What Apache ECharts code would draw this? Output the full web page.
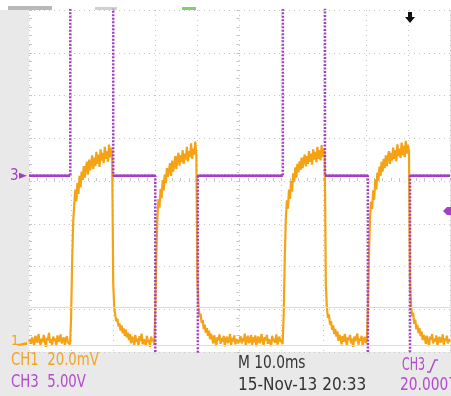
<!DOCTYPE html>
<html>
<head>
<meta charset="utf-8">
<script src="https://cdn.jsdelivr.net/npm/echarts@6/dist/echarts.min.js"></script>
<style>
html,body{margin:0;padding:0;background:#e9e9e9;}
#scope{width:451px;height:396px;}
</style>
</head>
<body>
<div id="scope"></div>
<script>
// Screen: 10 horizontal divisions (10 ms/div), 8 vertical divisions
const timeMin = 0, timeMax = 100, timeDiv = 10;
const divMin = -4, divMax = 4;

// CH1 trace, in screen divisions, sampled every 0.25 ms
const ch1Step = 0.25;
const ch1Div = [
  // 0 - 9.75 ms
  -3.76,-3.70,-3.81,-3.66,-3.74,-3.85,-3.62,-3.71,-3.78,-3.58,
  -3.73,-3.84,-3.69,-3.77,-3.60,-3.75,-3.88,-3.67,-3.72,-3.55,
  -3.79,-3.70,-3.83,-3.64,-3.74,-3.68,-3.86,-3.61,-3.76,-3.71,
  -3.59,-3.80,-3.73,-3.66,-3.84,-3.70,-3.63,-3.78,-3.74,-3.82,
  // 10 - 19.75 ms
  -3.20,-1.90,-0.95,-0.55,-0.20,-0.48,-0.05,-0.30,0.12,-0.15,
  0.22,0.02,0.35,0.08,0.30,0.45,0.15,0.50,0.25,0.42,
  0.60,0.28,0.55,0.35,0.68,0.40,0.62,0.33,0.74,0.48,
  0.66,0.42,0.80,0.52,0.70,0.45,0.85,0.55,0.78,0.62,
  // 20 - 29.75 ms
  -2.40,-2.95,-3.15,-3.28,-3.22,-3.40,-3.33,-3.50,-3.38,-3.56,
  -3.45,-3.62,-3.48,-3.66,-3.55,-3.72,-3.58,-3.80,-3.64,-3.70,
  -3.84,-3.60,-3.76,-3.68,-3.86,-3.63,-3.74,-3.57,-3.82,-3.70,
  -3.66,-3.85,-3.62,-3.77,-3.71,-3.88,-3.64,-3.75,-3.69,-3.83,
  // 30 - 39.75 ms
  -3.00,-1.70,-0.85,-0.42,-0.62,-0.18,-0.40,0.02,-0.22,0.15,
  -0.05,0.30,0.10,0.25,0.42,0.12,0.48,0.22,0.38,0.58,
  0.28,0.52,0.66,0.36,0.60,0.44,0.72,0.40,0.64,0.50,
  0.80,0.46,0.70,0.56,0.88,0.52,0.76,0.62,0.92,0.58,
  // 40 - 49.75 ms
  -2.30,-2.90,-3.18,-3.10,-3.32,-3.25,-3.46,-3.36,-3.55,-3.44,
  -3.62,-3.50,-3.70,-3.58,-3.66,-3.80,-3.61,-3.74,-3.86,-3.65,
  -3.72,-3.59,-3.81,-3.68,-3.76,-3.62,-3.87,-3.70,-3.64,-3.79,
  -3.73,-3.58,-3.84,-3.67,-3.75,-3.61,-3.82,-3.70,-3.66,-3.78,
  // 50 - 60.25 ms
  -3.71,-3.63,-3.80,-3.68,-3.75,-3.57,-3.85,-3.70,-3.62,-3.79,
  -3.74,-3.60,-3.83,-3.66,-3.77,-3.61,-3.87,-3.69,-3.64,-3.80,
  -3.72,-3.58,-3.76,-3.84,-3.65,-3.73,-3.60,-3.81,-3.70,-3.67,
  -3.86,-3.62,-3.75,-3.69,-3.78,-3.59,-3.83,-3.71,-3.64,-3.77,
  -3.70,-3.82,
  // 60.5 - 70.25 ms
  -3.10,-1.80,-0.90,-0.45,-0.65,-0.20,-0.42,0.00,-0.25,0.18,
  -0.02,0.32,0.08,0.40,0.20,0.46,0.26,0.55,0.30,0.50,
  0.62,0.34,0.58,0.40,0.70,0.45,0.64,0.38,0.74,0.50,
  0.68,0.44,0.80,0.52,0.72,0.48,0.84,0.56,0.76,0.60,
  // 70.5 - 80.25 ms
  -2.40,-2.95,-3.20,-3.12,-3.36,-3.28,-3.48,-3.38,-3.58,-3.46,
  -3.64,-3.52,-3.74,-3.60,-3.68,-3.82,-3.63,-3.76,-3.58,-3.70,
  -3.85,-3.66,-3.72,-3.60,-3.80,-3.69,-3.88,-3.64,-3.75,-3.71,
  -3.57,-3.83,-3.68,-3.74,-3.62,-3.86,-3.70,-3.65,-3.79,-3.73,
  // 80.5 - 90.25 ms
  -3.00,-1.75,-0.88,-0.48,-0.66,-0.22,-0.44,0.04,-0.20,0.20,
  0.00,0.34,0.12,0.45,0.22,0.52,0.30,0.60,0.35,0.56,
  0.70,0.40,0.66,0.48,0.78,0.52,0.72,0.46,0.86,0.58,
  0.76,0.54,0.90,0.60,0.82,0.56,0.94,0.64,0.85,0.70,
  // 90.5 - 100 ms
  -2.35,-2.92,-3.16,-3.08,-3.34,-3.24,-3.47,-3.36,-3.56,-3.44,
  -3.63,-3.52,-3.72,-3.60,-3.67,-3.81,-3.62,-3.75,-3.86,-3.64,
  -3.71,-3.58,-3.80,-3.69,-3.76,-3.61,-3.85,-3.70,-3.65,-3.78,
  -3.73,-3.59,-3.83,-3.68,-3.74,-3.62,-3.80,-3.70,-3.76
];
const ch1Ground = -3.79;          // CH1 ground marker, divisions
const ch1Cursors = [-2.95, -3.84]; // horizontal cursors, divisions

// CH3 square wave: edge times (ms) and the level (V) held before/after each edge
const ch3Edges = [9.8, 20.0, 30.0, 40.1, 60.3, 70.3, 80.5, 90.5];
const ch3Volts = [0, 25, 0, -25, 0, 25, 0, -25, 0];
const ch3VoltsPerDiv = 5;
const ch3Offset = 0.12;           // CH3 ground position, divisions
const trigTime = 90.5;            // ms
const trigLevel = -4.1;           // V

const purple = '#a23fc2';
const orange = '#f5a314';
const toDiv3 = v => ch3Offset + v / ch3VoltsPerDiv;

const ch1Data = ch1Div.map((v, i) => [i * ch1Step, v]);

const ch3Wave = [];
const ch3Mid = [];
const bounds = [timeMin].concat(ch3Edges, [timeMax]);
for (let i = 0; i < ch3Volts.length; i++) {
  const y = toDiv3(ch3Volts[i]);
  ch3Wave.push([bounds[i], y], [bounds[i + 1], y]);
  if (ch3Volts[i] === 0) {
    ch3Mid.push([bounds[i], y], [bounds[i + 1], y], [bounds[i + 1], '-']);
  }
}

const chart = echarts.init(document.getElementById('scope'), null, {renderer: 'canvas'});

const gridLine = {show: true, lineStyle: {color: '#c6c6c6', width: 1, type: [1, 4]}};
const tickStyle = {color: '#c4c4c4', width: 1};

chart.setOption({
  backgroundColor: '#e9e9e9',
  animation: false,
  grid: {left: 29, right: 1, top: 10, bottom: 44, show: true, backgroundColor: '#ffffff', borderWidth: 0},
  xAxis: [
    {type: 'value', min: timeMin, max: timeMax, interval: timeDiv,
     axisLine: {show: false, onZero: true, onZeroAxisIndex: 0},
     axisTick: {show: true, inside: true, length: 3, lineStyle: tickStyle},
     minorTick: {show: true, splitNumber: 5, length: 3, lineStyle: tickStyle},
     axisLabel: {show: false}, splitLine: gridLine},
    {type: 'value', min: -50, max: 50, show: false}
  ],
  yAxis: [
    {type: 'value', min: divMin, max: divMax, interval: 1,
     axisLine: {show: false, onZero: false},
     axisTick: {show: true, inside: true, length: 3, lineStyle: tickStyle},
     minorTick: {show: true, splitNumber: 5, length: 3, lineStyle: tickStyle},
     axisLabel: {show: false}, splitLine: gridLine},
    {type: 'value', min: divMin, max: divMax, interval: 1,
     axisLine: {show: false, onZero: true, onZeroAxisIndex: 1},
     axisTick: {show: true, inside: true, length: 3, lineStyle: tickStyle},
     minorTick: {show: true, splitNumber: 5, length: 3, lineStyle: tickStyle},
     axisLabel: {show: false}, splitLine: {show: false}}
  ],
  series: [
    {name: 'CH1', type: 'line', data: ch1Data, showSymbol: false, clip: true,
     lineStyle: {color: orange, width: 2.2}, z: 3,
     markLine: {silent: true, symbol: 'none', label: {show: false},
       lineStyle: {color: '#f7d9a8', width: 1, type: 'solid'},
       data: ch1Cursors.map(v => ({yAxis: v}))}},
    {name: 'CH3 edges', type: 'line', data: ch3Wave, showSymbol: false, clip: true,
     lineStyle: {color: purple, width: 2.5, type: [2, 1.5]}, z: 4},
    {name: 'CH3', type: 'line', data: ch3Mid, showSymbol: false, clip: true, connectNulls: false,
     lineStyle: {color: purple, width: 2.5}, z: 5}
  ]
});

// Screen annotations: channel markers, trigger markers and readouts
const gy3 = chart.convertToPixel({yAxisIndex: 0}, ch3Offset);
const gy1 = chart.convertToPixel({yAxisIndex: 0}, ch1Ground);
const ty = chart.convertToPixel({yAxisIndex: 0}, toDiv3(trigLevel));
const tx = chart.convertToPixel({xAxisIndex: 0}, trigTime);
const font = "'Liberation Sans Narrow','DejaVu Sans Condensed',sans-serif";

const txt = (text, x, y, fill, size, sx) => ({
  type: 'text', x: x, y: y, scaleX: sx || 1, silent: true,
  style: {text: text, fill: fill, font: size + 'px ' + font, textVerticalAlign: 'middle'}
});

chart.setOption({
  graphic: [
    {type: 'rect', shape: {x: 0, y: 0, width: 451, height: 10}, style: {fill: '#ffffff'}, silent: true},
    {type: 'rect', shape: {x: 8, y: 6, width: 44, height: 4}, style: {fill: '#8a8a8a', opacity: 0.6}, silent: true},
    {type: 'rect', shape: {x: 95, y: 7, width: 22, height: 3}, style: {fill: '#b0b0b0', opacity: 0.6}, silent: true},
    {type: 'rect', shape: {x: 182, y: 7, width: 14, height: 3}, style: {fill: '#7fd36e'}, silent: true},
    // CH3 ground marker
    txt('3', 10, gy3, purple, 15),
    {type: 'polygon', shape: {points: [[19, gy3 - 3], [27, gy3], [19, gy3 + 3]]}, style: {fill: purple}, silent: true},
    // CH1 ground marker
    txt('1', 11, gy1 - 2, orange, 14),
    {type: 'polygon', shape: {points: [[18, gy1 + 1], [27, gy1 - 1], [27, gy1 + 2], [18, gy1 + 3]]}, style: {fill: orange}, silent: true},
    // trigger position
    {type: 'polygon', shape: {points: [[tx - 2, 12], [tx + 2, 12], [tx + 2, 17], [tx + 5, 17], [tx, 23], [tx - 5, 17], [tx - 2, 17]]},
     style: {fill: '#111111'}, silent: true, z: 10},
    // trigger level
    {type: 'polygon', shape: {points: [[443, ty], [447, ty - 4], [451, ty - 4], [451, ty + 4], [447, ty + 4]]},
     style: {fill: purple}, silent: true, z: 10},
    // readouts
    txt('CH1  20.0mV', 11, 361, '#f0a428', 17, 0.87),
    txt('CH3  5.00V', 11, 383, '#b24bcc', 17, 0.87),
    txt('M 10.0ms', 238, 364, '#333333', 17, 0.9),
    txt('15-Nov-13 20:33', 238, 386, '#333333', 17),
    txt('CH3', 402, 366, '#b24bcc', 17, 0.72),
    {type: 'polyline', shape: {points: [[427, 372], [430, 372], [435, 360], [438, 360]]},
     style: {stroke: '#b24bcc', lineWidth: 1.5, fill: null}, silent: true},
    txt('20.0007Hz', 400, 386, '#b24bcc', 17, 0.9)
  ]
});
</script>
</body>
</html>
